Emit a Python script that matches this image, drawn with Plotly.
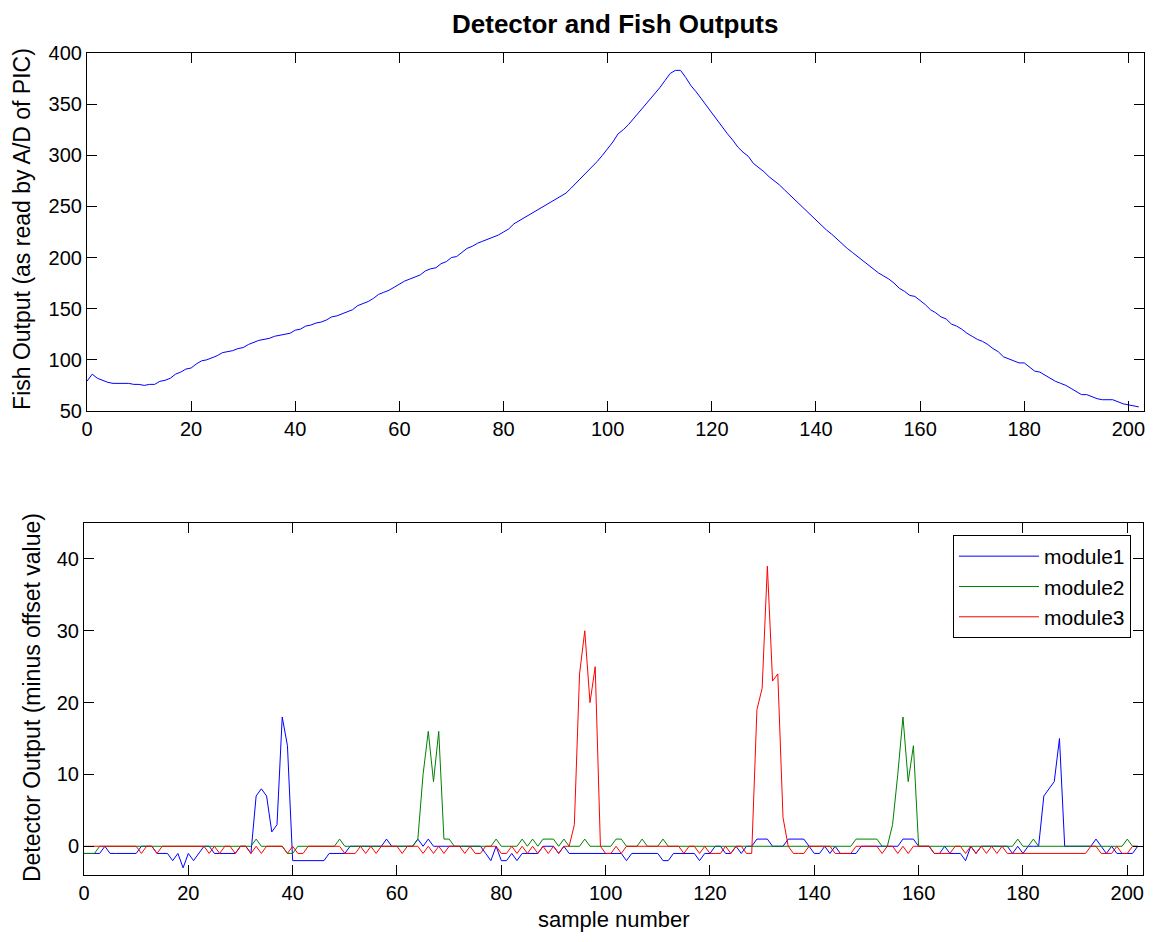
import plotly.graph_objects as go

samples = list(range(203))

fish_output = [
    79, 86, 82, 80, 78, 77, 77, 77, 77, 76,
    76, 75, 76, 76, 79, 80, 82, 86, 88, 91,
    92, 96, 99, 100, 102, 104, 107, 108, 109, 111,
    112, 115, 117, 119, 120, 121, 123, 124, 125, 126,
    129, 130, 133, 134, 136, 137, 139, 142, 143, 145,
    147, 149, 153, 155, 157, 160, 164, 166, 168, 171,
    174, 177, 179, 181, 183, 187, 189, 190, 194, 196,
    200, 201, 205, 209, 211, 214, 216, 218, 220, 222,
    225, 228, 233, 236, 239, 242, 245, 248, 251, 254,
    257, 260, 263, 268, 273, 278, 283, 288, 294, 300,
    306, 313, 321, 325, 330, 336, 342, 348, 354, 359,
    366, 373, 380, 383, 383, 376, 368, 362, 355, 348,
    341, 334, 327, 321, 315, 308, 303, 299, 292, 288,
    284, 279, 275, 271, 266, 261, 256, 251, 246, 241,
    236, 231, 227, 223, 218, 213, 209, 205, 201, 197,
    193, 189, 185, 182, 179, 175, 170, 167, 163, 162,
    158, 154, 149, 146, 142, 140, 135, 133, 130, 126,
    123, 120, 118, 115, 111, 108, 103, 101, 99, 97,
    97, 93, 89, 88, 85, 82, 79, 77, 75, 72,
    69, 66, 66, 64, 62, 61, 61, 61, 59, 57,
    56, 55, 54,
]

module1 = [
    -1, -1, -1, -1, 0, -1, -1, -1, -1, -1,
    -1, 0, 0, 0, -1, -1, -1, -2, -1, -3,
    -1, -2, -1, 0, 0, -1, -1, -1, -1, -1,
    0, 0, -1, 7, 8, 7, 2, 3, 18, 14,
    -2, -2, -2, -2, -2, -2, -2, -1, -1, -1,
    -1, 0, 0, 0, 0, 0, 0, 0, 1, 0,
    0, 0, 0, 0, 1, 0, 1, 0, 0, 0,
    0, 0, 0, 0, 0, 0, 0, -1, -2, 0,
    -2, -2, -1, -2, -1, -1, -1, -1, 0, 0,
    0, -1, 0, -1, -1, -1, -1, -1, -1, -1,
    -1, -1, -1, -1, -2, -1, -1, -1, -1, -1,
    -1, -2, -2, -1, -1, -1, -1, -1, -2, -1,
    -1, 0, 0, -1, -1, 0, -1, 0, 0, 1,
    1, 1, 0, 0, 0, 1, 1, 1, 1, 0,
    -1, -1, 0, -1, 0, -1, -1, -1, -1, 0,
    0, 0, 0, 0, 0, 0, 0, 1, 1, 1,
    0, 0, 0, -1, -1, 0, -1, -1, -1, -2,
    0, -1, 0, 0, 0, 0, 0, 0, -1, 0,
    -1, 0, 0, 0, 7, 8, 9, 15, 0, 0,
    0, 0, 0, 0, 1, 0, -1, 0, -1, -1,
    -1, -1, 0,
]

module2 = [
    -1, -1, -1, 0, 0, 0, 0, 0, 0, 0,
    0, 0, 0, 0, 0, 0, 0, 0, 0, 0,
    0, 0, 0, 0, 0, 0, 0, 0, 0, 0,
    0, 0, 0, 1, 0, 0, 0, 0, 0, -1,
    -1, 0, 0, 0, 0, 0, 0, 0, 0, 1,
    0, 0, 0, 0, 0, 0, 0, 0, 0, 0,
    0, 0, 0, 0, 1, 10, 16, 9, 16, 1,
    1, 0, 0, 0, 0, 0, 0, 0, 0, 1,
    0, 0, 0, 0, 1, 0, 1, 0, 1, 1,
    1, 0, 1, 0, 0, 0, 1, 0, 0, 0,
    0, 0, 1, 1, 0, 0, 0, 1, 0, 0,
    0, 1, 0, 0, 0, 0, 0, 0, 0, 0,
    0, 0, 0, 0, 0, 0, 0, 0, 0, 0,
    0, 0, 0, 0, 0, 0, 0, 0, 0, 0,
    0, 0, 0, 0, 0, 0, 0, 0, 1, 1,
    1, 1, 1, 0, 0, 3, 10, 18, 9, 14,
    0, 0, 0, 0, 0, 0, 0, 0, 0, 0,
    0, 0, 0, 0, 0, 0, 0, 0, 0, 1,
    0, 0, 1, 0, 0, 0, 0, 0, 0, 0,
    0, 0, 0, 0, 0, 0, 0, 0, 0, 0,
    1, 0, 0,
]

module3 = [
    0, 0, 0, 0, 0, 0, 0, 0, 0, 0,
    0, -1, 0, 0, -1, 0, 0, 0, 0, 0,
    0, 0, 0, 0, -1, 0, -1, 0, 0, -1,
    0, 0, -1, 0, -1, 0, 0, 0, 0, -1,
    0, -1, -1, 0, 0, 0, 0, 0, 0, 0,
    -1, -1, -1, 0, -1, 0, -1, 0, 0, 0,
    0, -1, 0, 0, 0, -1, 0, -1, 0, -1,
    0, 0, 0, -1, 0, -1, -1, 0, 0, 0,
    -1, -1, 0, -1, 0, -1, 0, -1, 0, -1,
    0, -1, 0, 0, 3, 24, 30, 20, 25, 0,
    -1, -1, 0, -1, 0, 0, 0, 0, 0, 0,
    0, 0, 0, 0, 0, -1, 0, 0, -1, 0,
    -1, -1, -1, 0, -1, 0, 0, -1, -1, 19,
    22, 39, 23, 24, 4, 0, -1, -1, -1, 0,
    0, 0, 0, 0, -1, -1, -1, -1, 0, 0,
    0, 0, 0, -1, 0, 0, -1, 0, -1, 0,
    0, 0, 0, -1, -1, -1, -1, 0, 0, -1,
    0, -1, 0, -1, 0, -1, 0, -1, -1, -1,
    -1, -1, -1, -1, -1, -1, -1, -1, -1, -1,
    -1, -1, -1, 0, 0, -1, -1, -1, 0, -1,
    -1, 0, 0,
]

module_names = ["module1", "module2", "module3"]
module_colors = ["#0000ff", "#008000", "#ff0000"]

x_ticks = [0, 20, 40, 60, 80, 100, 120, 140, 160, 180, 200]
top_y_ticks = [50, 100, 150, 200, 250, 300, 350, 400]
bottom_y_ticks = [0, 10, 20, 30, 40]

FONT = "Liberation Sans, Arial, Helvetica, sans-serif"
TICK_SIZE = 20

fig = go.Figure()

fig.add_trace(go.Scatter(
    x=samples, y=fish_output, mode="lines",
    line=dict(color="#0000ff", width=1),
    showlegend=False, xaxis="x", yaxis="y", hoverinfo="skip",
))

for name, vals, col in zip(module_names, [module1, module2, module3], module_colors):
    fig.add_trace(go.Scatter(
        x=samples, y=vals, mode="lines", name=name,
        line=dict(color=col, width=1),
        xaxis="x2", yaxis="y2",
    ))

axis_common = dict(
    showline=True, linecolor="black", linewidth=1, mirror="ticks",
    ticks="inside", ticklen=10, tickwidth=1, tickcolor="black",
    showgrid=False, zeroline=False,
    tickfont=dict(family=FONT, size=TICK_SIZE, color="black"),
)

fig.update_layout(
    width=1158, height=942,
    margin=dict(l=76, r=22, t=45, b=75),
    paper_bgcolor="white", plot_bgcolor="white",
    font=dict(family=FONT, color="black"),
    xaxis=dict(domain=[0.0028, 1.0], range=[0, 203], anchor="y",
               tickvals=x_ticks, **axis_common),
    yaxis=dict(domain=[0.5645, 1.0], range=[50, 400], anchor="x",
               tickvals=top_y_ticks, **axis_common),
    xaxis2=dict(domain=[0.0, 0.999], range=[0, 203], anchor="y2",
                tickvals=x_ticks, **axis_common),
    yaxis2=dict(domain=[0.0, 0.4282], range=[-4, 45], anchor="x2",
                tickvals=bottom_y_ticks, **axis_common),
    legend=dict(
        x=0.9877, y=0.4136, xanchor="right", yanchor="top",
        bgcolor="white", bordercolor="black", borderwidth=1,
        font=dict(family=FONT, size=21, color="black"),
        tracegroupgap=0, itemwidth=80,
    ),
    showlegend=True,
)

annotations = [
    dict(text="<b>Detector and Fish Outputs</b>", x=0.501, y=1.035,
         xref="paper", yref="paper", showarrow=False,
         xanchor="center", yanchor="middle",
         font=dict(family=FONT, size=26, color="black")),
    dict(text="Fish Output (as read by A/D of PIC)", x=-0.0585, y=0.786,
         xref="paper", yref="paper", showarrow=False, textangle=-90,
         xanchor="center", yanchor="middle",
         font=dict(family=FONT, size=23, color="black")),
    dict(text="Detector Output (minus offset value)", x=-0.049, y=0.2153,
         xref="paper", yref="paper", showarrow=False, textangle=-90,
         xanchor="center", yanchor="middle",
         font=dict(family=FONT, size=23, color="black")),
    dict(text="sample number", x=0.5, y=-0.0547,
         xref="paper", yref="paper", showarrow=False,
         xanchor="center", yanchor="middle",
         font=dict(family=FONT, size=22, color="black")),
]
fig.update_layout(annotations=annotations)

fig.write_html("out.html")
